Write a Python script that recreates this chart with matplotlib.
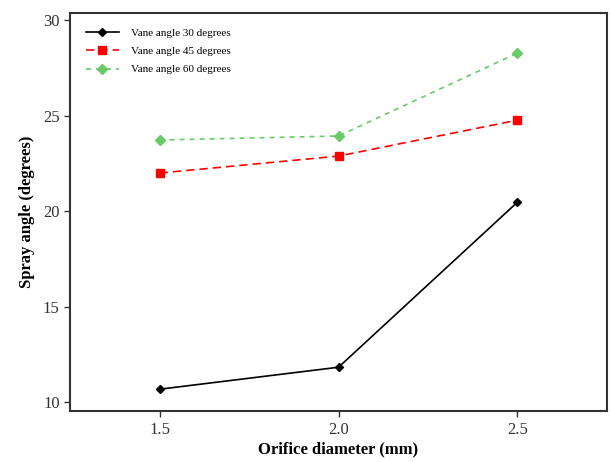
import matplotlib
matplotlib.use("Agg")
import matplotlib.pyplot as plt

plt.rcParams['font.family'] = ['Liberation Serif', 'DejaVu Serif']

# orifice diameters (mm)
diameters = [1.5, 2.0, 2.5]
tick_labels = ["1.5", "2.0", "2.5"]

# spray angle (degrees) for each vane angle
vane30 = [10.68, 11.83, 20.47]
vane45 = [21.99, 22.88, 24.76]
vane60 = [23.72, 23.93, 28.27]

fig = plt.figure(figsize=(6.1, 4.62), dpi=100)
ax = fig.add_axes([0.115, 0.110, 0.880, 0.862])

ax.plot(diameters, vane30, color="black", linestyle="-", linewidth=1.2,
        marker="D", markersize=4.5, label="Vane angle 30 degrees")
ax.plot(diameters, vane45, color="#ff0000", linestyle=(0, (5, 3)), linewidth=1.2,
        marker="s", markersize=6, label="Vane angle 45 degrees")
ax.plot(diameters, vane60, color="#66cc66", linestyle=(0, (3, 3)), linewidth=1.2,
        marker="D", markersize=5.5, label="Vane angle 60 degrees")

ax.set_xlim(1.25, 2.75)
ax.set_ylim(9.53, 30.37)
ax.set_xticks(diameters)
ax.set_xticklabels(tick_labels)
ax.set_yticks([10, 15, 20, 25, 30])

ax.tick_params(direction="out", length=4, width=1, labelsize=12, colors="#333333")
for s in ax.spines.values():
    s.set_linewidth(1.5)
    s.set_color("#333333")

ax.set_xlabel("Orifice diameter (mm)", fontsize=12, fontweight="bold", labelpad=3)
ax.set_ylabel("Spray angle (degrees)", fontsize=12, fontweight="bold", labelpad=6)

ax.legend(loc="upper left", frameon=False, fontsize=8, handlelength=3.0,
          labelspacing=0.75, borderaxespad=1.0, handletextpad=1.1)

fig.savefig("out.png", dpi=100)
